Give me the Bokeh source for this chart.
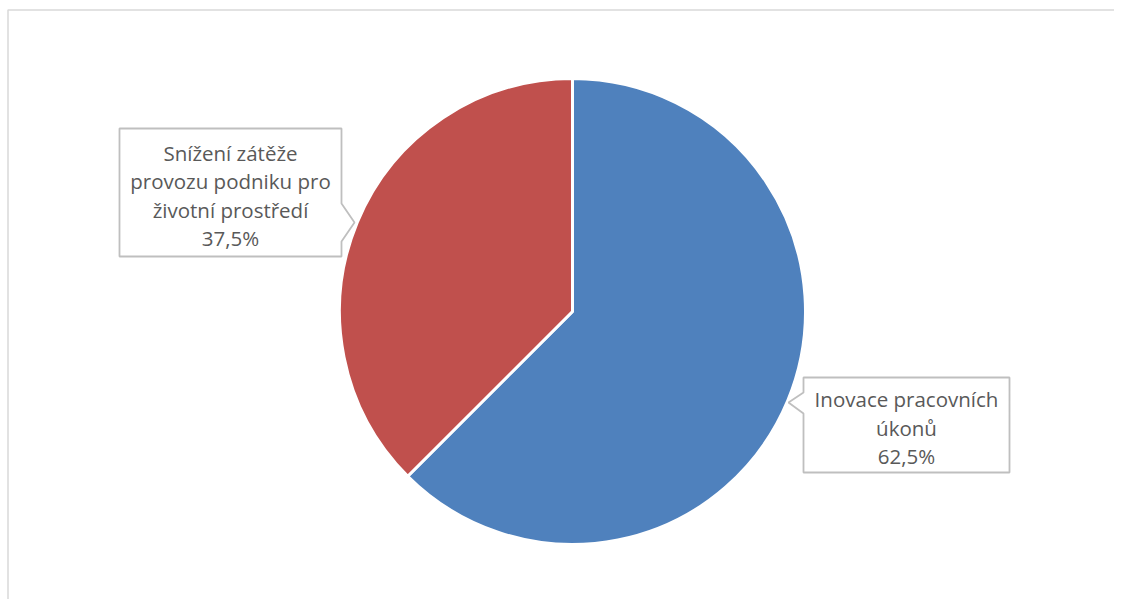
import math
from bokeh.plotting import figure
from bokeh.models import Range1d
from bokeh.core.properties import value
from bokeh.embed import file_html
from bokeh.resources import INLINE

# ---- data ----
categories = ["Inovace pracovních úkonů", "Snížení zátěže provozu podniku pro životní prostředí"]
shares = [62.5, 37.5]
label_lines = [["Inovace pracovních", "úkonů", "62,5%"],
               ["Snížení zátěže", "provozu podniku pro", "životní prostředí", "37,5%"]]
colors = ["#4f81bd", "#c0504d"]

W, H = 1114, 599


def X(px):
    return px


def Y(py):
    return H - py


p = figure(width=W, height=H, output_backend="svg", toolbar_location=None,
           x_range=Range1d(0, W), y_range=Range1d(0, H), min_border=0)
p.axis.visible = False
p.grid.visible = False
p.outline_line_color = None
p.background_fill_color = "white"
p.border_fill_color = "white"

# chart area border (top and left visible)
p.line([X(7.5), X(7.5), X(1130)], [Y(620), Y(9.5), Y(9.5)], line_color="#d9d9d9", line_width=1.5)

# pie
cx, cy, r = X(572), Y(311), 233
total = sum(shares)
start = math.pi / 2
for s, c in zip(shares, colors):
    end = start - s / total * 2 * math.pi
    p.wedge(x=[cx], y=[cy], radius=r, start_angle=start, end_angle=end, direction="clock",
            fill_color=c, line_color="white", line_width=3)
    start = end

# callout boxes (pixel outlines)
callouts = [
    dict(poly=[(803, 377), (1009, 377), (1009, 472), (803, 472), (803, 413), (788, 402), (803, 392)],
         cx=906, lines_y=[398, 427, 455]),
    dict(poly=[(119, 128), (341, 128), (341, 203), (354, 222), (341, 241), (341, 256), (119, 256)],
         cx=230, lines_y=[152, 180, 209, 237]),
]
for co, lines in zip(callouts, label_lines):
    xs = [X(a) for a, b in co["poly"]]
    ys = [Y(b) for a, b in co["poly"]]
    p.patch(xs, ys, fill_color="white", line_color="#bfbfbf", line_width=1.8)
    p.text(x=[X(co["cx"])] * len(lines), y=[Y(v) for v in co["lines_y"]], text=lines,
           text_align="center", text_baseline="middle", text_font=value("Open Sans"),
           text_font_size="20.5px", text_color="#595959")

open("out.html", "w").write(file_html(p, INLINE))
